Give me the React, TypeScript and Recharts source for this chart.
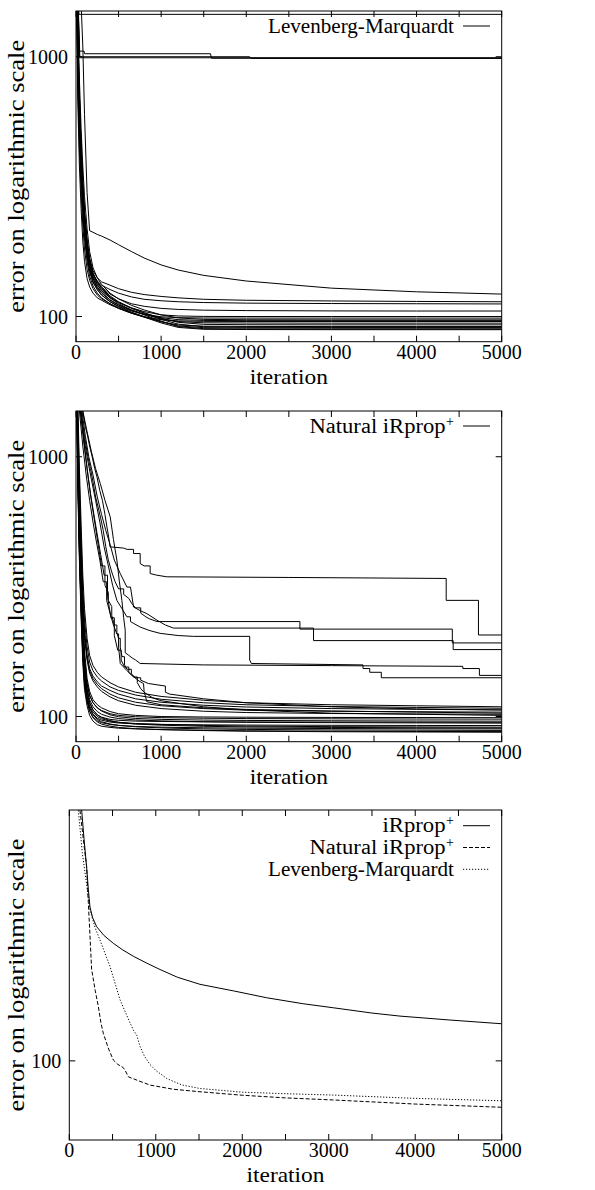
import React from 'react';
import { LineChart, Line, XAxis, YAxis, Customized } from 'recharts';

const FONT = "'Liberation Serif', 'Times New Roman', serif";
const W = 595;

// ---------- axes ----------
const xTicks = [0, 500, 1000, 1500, 2000, 2500, 3000, 3500, 4000, 4500, 5000];
const xLabeled = [0, 1000, 2000, 3000, 4000, 5000];
const yTicksRuns = [100, 1000];
const yTicksMean = [100];
const yDomainRuns = [80, 1500];
const yDomainMean = [50, 900];
const xDomain = [0, 5000];

// ---------- panel 1 : Levenberg-Marquardt runs ----------
const lmIter = [0, 20, 40, 60, 80, 100, 130, 160, 200, 250, 300, 400, 500, 650, 800, 1000, 1200, 1500, 2000, 3000, 4000, 5000];
const lmRun01 = [3000, 1200, 650, 420, 300, 235, 185, 158, 142, 132, 126, 118, 113, 108, 104.5, 101.5, 100.5, 100.1, 100, 100, 100, 100];
const lmRun02 = [3000, 1000, 560, 370, 270, 215, 172, 150, 136, 127, 121, 114, 109.5, 105, 102, 99.8, 99, 98.7, 98.6, 98.6, 98.6, 98.6];
const lmRun03 = [3000, 1500, 820, 530, 380, 290, 218, 178, 154, 141, 133, 123, 117, 110.5, 106, 101.5, 98.8, 97.5, 97.2, 97.1, 97.1, 97.1];
const lmRun04 = [3000, 900, 500, 340, 250, 200, 163, 143, 131, 123, 118, 112, 107.5, 103, 99.8, 97.2, 96.2, 95.8, 95.7, 95.7, 95.7, 95.7];
const lmRun05 = [3000, 1100, 600, 400, 290, 228, 180, 155, 140, 130, 124, 116, 111, 106, 102, 98, 95.6, 94.6, 94.4, 94.3, 94.3, 94.3];
const lmRun06 = [3000, 1300, 720, 460, 330, 255, 197, 166, 147, 136, 129, 120, 114, 108, 103.5, 98.5, 95, 93.3, 93, 92.9, 92.9, 92.9];
const lmRun07 = [3000, 700, 380, 260, 195, 163, 140, 130, 123, 118, 115.5, 111, 107.5, 103, 99.5, 95.5, 92.8, 91.8, 91.6, 91.5, 91.5, 91.5];
const lmRun08 = [3000, 950, 530, 360, 265, 212, 170, 149, 135, 127, 121, 114, 109, 104, 100, 95.5, 92, 90.6, 90.3, 90.2, 90.2, 90.2];
const lmRun09 = [3000, 1150, 630, 415, 300, 236, 186, 160, 143, 133, 126, 118, 112, 106, 101.5, 96, 91.5, 89.8, 89.5, 89.4, 89.4, 89.4];
const lmRun10 = [3000, 800, 440, 300, 225, 182, 152, 138, 128, 121, 117, 112, 108, 103.5, 99.5, 94.5, 90.8, 89.3, 89.1, 89, 89, 89];
const lmRun11 = [3000, 1250, 690, 445, 320, 248, 193, 164, 146, 135, 128, 119, 113.5, 107.5, 103, 97.5, 93.5, 91.3, 90.9, 90.8, 90.8, 90.8];
const lmRun12 = [3000, 1050, 580, 385, 280, 222, 176, 153, 138, 129, 123, 115.5, 110.5, 105.5, 102, 99, 97.3, 96.6, 96.4, 96.4, 96.4, 96.4];
const lmRunUpperA = [3000, 1300, 700, 450, 320, 250, 195, 168, 150, 141, 136, 132, 128, 124, 121.5, 119.5, 118, 116.5, 115.5, 114.8, 114.3, 114];
const lmRunUpperB = [3000, 1100, 620, 410, 300, 235, 185, 160, 145, 137, 132, 127, 123, 119, 116.5, 115, 114, 113.2, 112.6, 112.2, 112, 111.8];
const lmRunMiddle = [3000, 1200, 650, 430, 310, 245, 192, 163, 146, 136, 130, 122, 117, 112, 109.5, 107.5, 106.5, 105.8, 105.4, 105.1, 105, 105];
const lmRunSlow = [3000, 2200, 1800, 1600, 1100, 600, 300, 214, 211, 207, 204, 197, 189, 178, 168, 158, 151, 144, 137, 128.6, 124.5, 122];
const lmStuckTop = [[0, 3000], [35, 1456], [5000, 1456]];
const lmStuckA = [[0, 3000], [40, 1051], [95, 1051], [100, 1027], [1580, 1027], [1590, 987], [5000, 987]];
const lmStuckB = [[0, 3000], [40, 991], [5000, 991]];
const lmStuckC = [[0, 3000], [45, 1000], [2040, 1000], [2060, 986], [5000, 986]];

// ---------- panel 2 : Natural iRprop+ runs ----------
const nrIter = [0, 20, 40, 60, 80, 100, 130, 160, 200, 250, 300, 400, 500, 700, 1000, 1500, 2000, 3000, 4000, 5000];
const nrLow01 = [3000, 1400, 700, 400, 250, 180, 140, 125, 116, 111, 108, 104.5, 102.5, 101, 100, 99.6, 99.4, 99.2, 99.1, 99];
const nrLow02 = [3000, 1200, 600, 350, 220, 165, 133, 120, 113, 108, 105.5, 102.5, 101, 99.8, 99, 98.5, 98.2, 98, 97.8, 97.7];
const nrLow03 = [3000, 1300, 650, 370, 230, 170, 135, 121, 113, 108, 105, 101.5, 99.8, 98.3, 97.5, 96.9, 96.6, 96.3, 96.1, 96];
const nrLow04 = [3000, 1000, 500, 300, 195, 150, 125, 113, 106, 101.5, 99.5, 97.5, 96.7, 96, 95.7, 95.4, 95.3, 95.2, 95.1, 95];
const nrLow05 = [3000, 1100, 550, 320, 205, 157, 128, 116, 109, 104.5, 102, 99.5, 98.2, 97, 96.2, 95.5, 95, 94.7, 94.5, 94.3];
const nrLow06 = [3000, 900, 450, 270, 180, 140, 118, 108, 102, 98.5, 96.8, 95.2, 94.4, 93.7, 93.3, 92.9, 92.7, 92.5, 92.4, 92.3];
const nrLow07 = [3000, 1000, 480, 285, 185, 143, 120, 110, 104, 100, 98, 96, 95, 94, 93.2, 92.4, 91.9, 91.4, 91.2, 91];
const nrLow08 = [3000, 850, 420, 255, 170, 133, 114, 105, 99.5, 96.3, 94.7, 93.2, 92.4, 91.6, 91, 90.5, 90.2, 89.9, 89.7, 89.6];
const nrLow09 = [3000, 950, 460, 275, 180, 140, 118, 108, 101.5, 97.5, 95.5, 93.6, 92.5, 91.3, 90.4, 89.6, 89.2, 88.8, 88.6, 88.4];
const nrLow10 = [3000, 800, 400, 240, 160, 127, 110, 101, 96, 93, 91.8, 90.8, 90.2, 89.6, 89.1, 88.5, 88.1, 87.8, 87.6, 87.5];
const nrLow11 = [3000, 880, 430, 260, 172, 135, 115, 105, 99, 95.3, 93.5, 91.8, 90.8, 89.8, 89, 88.3, 87.8, 87.4, 87.2, 87];
const nrLow12 = [3000, 1050, 520, 310, 200, 152, 125, 113, 106, 101.5, 99, 96.5, 95, 93.6, 92.6, 91.7, 91.2, 90.8, 90.5, 90.3];
const nrMid1 = [3000, 1700, 900, 550, 350, 260, 200, 172, 157, 148, 142, 135, 130, 124, 119.5, 115.5, 113, 111, 110, 109];
const nrMid2 = [3000, 1500, 800, 480, 310, 235, 186, 162, 150, 142, 137, 130, 126, 121, 116.5, 113, 111, 109.3, 108.4, 107.6];
const nrMid3 = [3000, 1300, 700, 420, 280, 215, 173, 153, 143, 136, 131, 126, 122, 117, 113.5, 110.5, 108.8, 107.3, 106.6, 106];
const nrMid4 = [3000, 1200, 650, 400, 268, 208, 168, 150, 140, 133, 128, 122, 118, 113.5, 110, 107.3, 105.8, 104.8, 104.3, 104];
const nrMid5 = [3000, 1100, 600, 380, 258, 200, 165, 147, 137, 130, 125, 119, 115, 110.5, 107.3, 104.8, 103.6, 102.7, 102.3, 102];
const nrStairA = [[0, 3000], [50, 2000], [80, 1500], [110, 1300], [130, 1230], [160, 1100], [190, 1000], [220, 900], [246, 837], [280, 740], [310, 680], [340, 600], [363, 537], [380, 500], [400, 450], [560, 445], [600, 440], [676, 440], [676, 424], [754, 424], [754, 388], [800, 380], [871, 380], [871, 355], [950, 350], [1066, 345], [2500, 343], [4348, 340], [4348, 280], [4727, 280], [4727, 206], [5000, 206]];
const nrStairB = [[0, 3000], [60, 1500], [100, 1200], [140, 1000], [170, 900], [200, 800], [230, 700], [260, 640], [290, 580], [320, 520], [350, 450], [380, 400], [420, 360], [460, 330], [500, 310], [560, 310], [560, 295], [620, 285], [656, 272], [700, 262], [760, 262], [760, 250], [820, 242], [860, 238], [950, 232], [2630, 232], [2630, 217], [4420, 217], [4420, 192], [5000, 192]];
const nrStairC = [[0, 3000], [70, 1500], [110, 1200], [150, 1000], [200, 850], [250, 700], [300, 600], [350, 520], [400, 460], [450, 400], [520, 355], [598, 315], [640, 315], [676, 264], [760, 255], [832, 249], [950, 235], [1050, 225], [1145, 219], [2790, 219], [2790, 196], [4430, 196], [4430, 181], [5000, 181]];
const nrStairD = [[0, 3000], [50, 1500], [90, 1200], [130, 1000], [180, 820], [230, 680], [280, 560], [330, 450], [380, 380], [430, 320], [480, 280], [540, 260], [598, 242], [640, 242], [640, 232], [680, 228], [754, 221], [870, 214], [988, 209], [1200, 205], [1379, 203.5], [2040, 203.5], [2040, 165], [2060, 160], [3371, 158], [3371, 153], [3450, 153], [3450, 148], [3586, 148], [3586, 141], [5000, 141]];
const nrStairE = [[0, 3000], [80, 1500], [130, 1250], [180, 1050], [230, 900], [285, 789], [340, 680], [402, 587], [440, 480], [480, 400], [510, 330], [539, 280], [560, 240], [578, 215], [578, 176], [620, 172], [660, 168], [700, 165], [754, 160], [1500, 158], [3000, 157], [4543, 156], [4543, 153], [4738, 153], [4738, 144], [5000, 144]];
const nrStairS1 = [[0, 3000], [60, 1500], [100, 1100], [140, 850], [180, 680], [220, 560], [260, 460], [300, 380], [340, 380], [340, 320], [380, 300], [380, 280], [420, 265], [420, 245], [450, 225], [480, 225], [480, 210], [500, 200], [520, 200], [520, 185], [540, 170], [570, 170], [570, 158], [600, 152], [650, 152], [650, 146], [700, 141], [760, 141], [760, 138], [850, 134], [1050, 131], [1050, 124], [1100, 122], [1500, 117], [2000, 113], [3000, 109], [4000, 107], [5000, 106]];
const nrStairS2 = [[0, 3000], [50, 1500], [90, 1150], [130, 900], [170, 720], [210, 600], [250, 500], [290, 420], [330, 350], [370, 350], [370, 290], [410, 240], [450, 240], [450, 205], [490, 180], [530, 180], [530, 165], [570, 155], [620, 155], [620, 148], [680, 142], [740, 137], [793, 134], [800, 125], [832, 114], [1000, 111], [1500, 108], [2000, 106.5], [3000, 105], [4000, 104], [5000, 103]];
const nrStairS3 = [[0, 3000], [40, 1500], [80, 1100], [120, 850], [160, 680], [200, 560], [240, 470], [280, 400], [320, 330], [360, 330], [360, 280], [400, 250], [440, 225], [480, 208], [500, 208], [500, 185], [520, 160], [600, 150], [676, 142], [720, 142], [720, 135], [760, 128], [800, 124], [900, 118], [1000, 115], [1500, 109], [2000, 106], [3000, 103], [4000, 102], [5000, 101]];

// ---------- panel 3 : mean curves ----------
const irpropMean = [[0, 3000], [100, 1400], [143, 900], [170, 700], [200, 548], [220, 450], [239, 385], [270, 350], [316, 324], [400, 300], [509, 280], [620, 264], [740, 250], [900, 235], [1049, 222.6], [1250, 208], [1511, 195.5], [1897, 184.6], [2282, 173.8], [2700, 165], [3053, 159.2], [3500, 152], [3824, 148], [4400, 143], [5000, 138.4]];
const naturalMean = [[0, 3000], [60, 1800], [123, 900], [180, 620], [200, 550], [220, 400], [239, 300], [258, 223], [300, 185], [335, 161.6], [365, 140], [393, 127.4], [450, 112], [509, 100.7], [560, 97], [620, 94.5], [644, 92.3], [682, 87], [800, 84], [933, 80.9], [1200, 78], [1511, 76.3], [2000, 74], [2500, 72.3], [3053, 71], [4000, 68.5], [5000, 66.6]];
const lmMean = [[0, 3000], [60, 1600], [104, 900], [150, 620], [200, 470], [239, 375], [300, 320], [355, 288], [470, 229], [586, 171], [680, 145], [740, 131], [780, 125], [817, 113.7], [870, 104], [933, 96.8], [1000, 92], [1126, 85.7], [1300, 81], [1511, 78.5], [2000, 76], [2500, 75], [3053, 74.1], [4000, 72], [5000, 70.5]];

// ---------- helpers ----------
type Pt = { i: number; v: number };
const fromGrid = (grid: number[], vals: number[]): Pt[] => grid.map((i, k) => ({ i, v: vals[k] }));
const fromPairs = (pairs: number[][]): Pt[] => pairs.map(([i, v]) => ({ i, v }));

type Series = { key: string; data: Pt[]; dash?: string };
type LegendEntry = { label: string; sup: boolean; width: number; dash?: string };

const panel1Series: Series[] = [
  { key: 'st', data: fromPairs(lmStuckTop) },
  { key: 'sa', data: fromPairs(lmStuckA) },
  { key: 'sb', data: fromPairs(lmStuckB) },
  { key: 'sc', data: fromPairs(lmStuckC) },
  { key: 'slow', data: fromGrid(lmIter, lmRunSlow) },
  { key: 'ua', data: fromGrid(lmIter, lmRunUpperA) },
  { key: 'ub', data: fromGrid(lmIter, lmRunUpperB) },
  { key: 'mid', data: fromGrid(lmIter, lmRunMiddle) },
  ...[lmRun01, lmRun02, lmRun03, lmRun04, lmRun05, lmRun06, lmRun07, lmRun08, lmRun09, lmRun10, lmRun11, lmRun12].map((r, k) => ({ key: 'r' + k, data: fromGrid(lmIter, r) })),
];

const panel2Series: Series[] = [
  ...[nrLow01, nrLow02, nrLow03, nrLow04, nrLow05, nrLow06, nrLow07, nrLow08, nrLow09, nrLow10, nrLow11, nrLow12].map((r, k) => ({ key: 'l' + k, data: fromGrid(nrIter, r) })),
  ...[nrMid1, nrMid2, nrMid3, nrMid4, nrMid5].map((r, k) => ({ key: 'm' + k, data: fromGrid(nrIter, r) })),
  ...[nrStairA, nrStairB, nrStairC, nrStairD, nrStairE, nrStairS1, nrStairS2, nrStairS3].map((r, k) => ({ key: 's' + k, data: fromPairs(r) })),
];

const panel3Series: Series[] = [
  { key: 'irprop', data: fromPairs(irpropMean) },
  { key: 'natural', data: fromPairs(naturalMean), dash: '4 2' },
  { key: 'lm', data: fromPairs(lmMean), dash: '1.2 1.8' },
];

const legend1: LegendEntry[] = [{ label: 'Levenberg-Marquardt', sup: false, width: 186 }];
const legend2: LegendEntry[] = [{ label: 'Natural iRprop', sup: true, width: 136 }];
const legend3: LegendEntry[] = [
  { label: 'iRprop', sup: true, width: 63 },
  { label: 'Natural iRprop', sup: true, width: 136, dash: '4 2' },
  { label: 'Levenberg-Marquardt', sup: false, width: 186, dash: '1.2 1.8' },
];

const txt = { fontFamily: FONT };

function Panel(props: {
  y0: number; height: number; left: number; top: number; right: number; bottom: number;
  yDomain: number[]; yTicks: number[]; series: Series[]; legend: LegendEntry[]; legendY: number;
}) {
  const { y0, height, left, top, right, bottom, yDomain, yTicks, series, legend, legendY } = props;
  const cx = (left + right) / 2;
  const cy = (top + bottom) / 2;
  const T = 6;

  const xTick = (p: any) => {
    const x = p.x;
    const v = p.payload.value;
    return (
      <g>
        <line x1={x} x2={x} y1={bottom} y2={bottom - T} stroke="#000" strokeWidth={1} />
        <line x1={x} x2={x} y1={top} y2={top + T} stroke="#000" strokeWidth={1} />
        {xLabeled.includes(v) ? (
          <text x={x} y={bottom + 17} textAnchor="middle" style={txt} fontSize={20} fill="#000">{v}</text>
        ) : null}
      </g>
    );
  };
  const yTick = (p: any) => {
    const y = p.y;
    const v = p.payload.value;
    return (
      <g>
        <line x1={left} x2={left + T} y1={y} y2={y} stroke="#000" strokeWidth={1} />
        <line x1={right} x2={right - T} y1={y} y2={y} stroke="#000" strokeWidth={1} />
        <text x={left - 8} y={y + 7} textAnchor="end" style={txt} fontSize={20} fill="#000">{v}</text>
      </g>
    );
  };

  const Decor = () => (
    <g>
      <rect x={left} y={top} width={right - left} height={bottom - top} fill="none" stroke="#000" strokeWidth={1} />
      <text x={cx} y={bottom + 42} textAnchor="middle" style={txt} fontSize={21} fill="#000" textLength={78} lengthAdjust="spacingAndGlyphs">iteration</text>
      <text x={24} y={cy} textAnchor="middle" style={txt} fontSize={24} fill="#000" transform={`rotate(-90, 24, ${cy})`} textLength={273} lengthAdjust="spacingAndGlyphs">error on logarithmic scale</text>
      {legend.map((e, k) => {
        const ly = legendY + k * 21.8;
        return (
          <g key={k}>
            <text x={e.sup ? 445.5 : 454} y={ly + 6.5} textAnchor="end" style={txt} fontSize={20} fill="#000" textLength={e.width} lengthAdjust="spacingAndGlyphs">{e.label}</text>
            {e.sup ? <text x={454} y={ly - 0.5} textAnchor="end" style={txt} fontSize={14} fill="#000">+</text> : null}
            <line x1={463} x2={490} y1={ly} y2={ly} stroke="#000" strokeWidth={1} strokeDasharray={e.dash} />
          </g>
        );
      })}
    </g>
  );

  return (
    <div style={{ position: 'absolute', left: 0, top: y0, width: W, height }}>
      <LineChart width={W} height={height} margin={{ top, right: W - right, bottom: 0, left: 0 }}>
        <XAxis dataKey="i" type="number" domain={xDomain} ticks={xTicks} interval={0} allowDataOverflow height={height - bottom} tickSize={0} tickMargin={0} axisLine={false} tickLine={false} tick={xTick} />
        <YAxis type="number" scale="log" domain={yDomain} ticks={yTicks} interval={0} allowDataOverflow width={left} tickSize={0} tickMargin={0} axisLine={false} tickLine={false} tick={yTick} />
        {series.map((s) => (
          <Line key={s.key} data={s.data} dataKey="v" type="linear" stroke="#000" strokeWidth={1} strokeDasharray={s.dash} dot={false} activeDot={false} isAnimationActive={false} />
        ))}
        <Customized component={Decor} />
      </LineChart>
    </div>
  );
}

export default function App() {
  return (
    <div style={{ position: 'absolute', left: 0, top: 0, width: W, height: 1190, background: '#fff' }}>
      <Panel y0={0} height={400} left={76} top={11} right={501.7} bottom={341.7} yDomain={yDomainRuns} yTicks={yTicksRuns} series={panel1Series} legend={legend1} legendY={26} />
      <Panel y0={400} height={400} left={76} top={11} right={501.7} bottom={341.7} yDomain={yDomainRuns} yTicks={yTicksRuns} series={panel2Series} legend={legend2} legendY={26} />
      <Panel y0={800} height={390} left={69.3} top={10} right={501.7} bottom={340} yDomain={yDomainMean} yTicks={yTicksMean} series={panel3Series} legend={legend3} legendY={25.7} />
    </div>
  );
}
